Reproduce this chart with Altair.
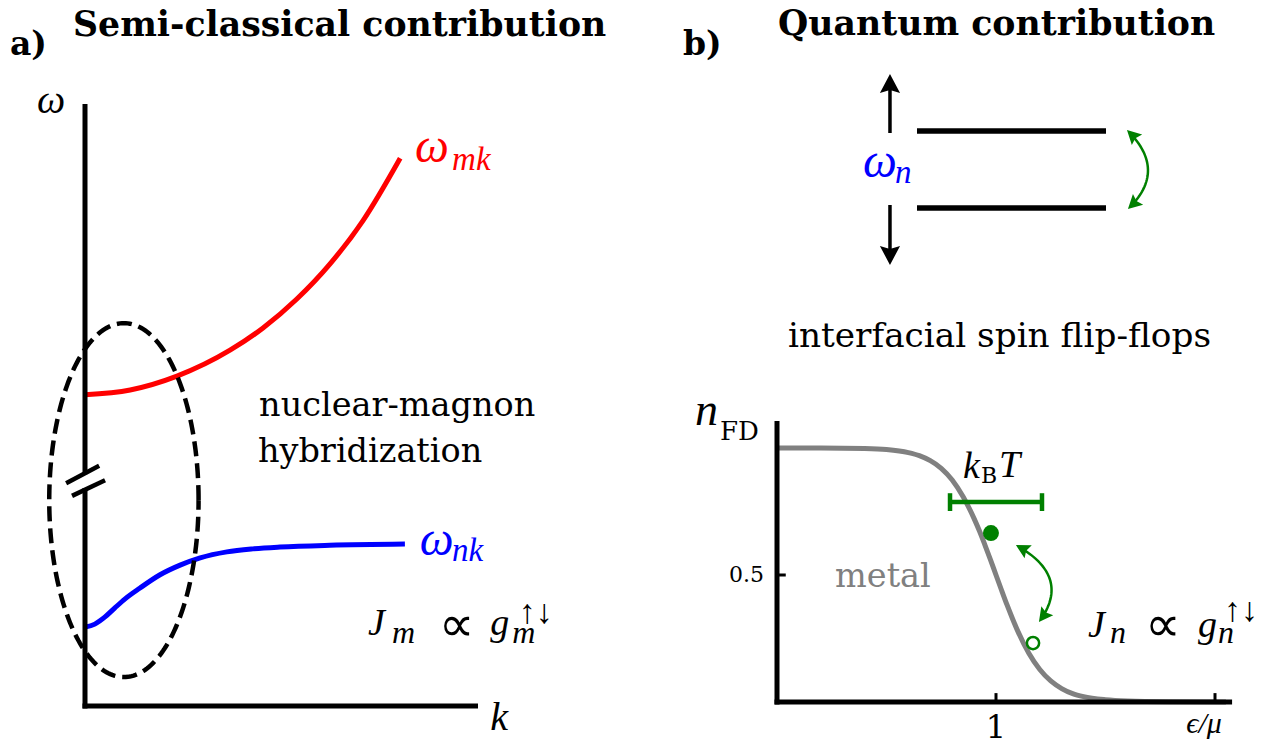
import altair as alt
import numpy as np
import pandas as pd

SERIF = "DejaVu Serif"
MATH = "Liberation Serif"
SYMB = "DejaVu Sans"
BLACK, RED, BLUE, GREEN, GRAY = "#000000", "#ff0000", "#0000ff", "#008000", "#808080"

# ---------------- panel a: dispersion sketch (arbitrary units) ----------------
k_magnon = [0.0, 0.115, 0.234, 0.369, 0.453, 0.539, 0.623, 0.707, 0.802]
w_magnon = [0.517, 0.525, 0.548, 0.591, 0.628, 0.676, 0.734, 0.806, 0.910]
k_nuclear = [0.0, 0.025, 0.051, 0.076, 0.102, 0.140, 0.191, 0.242, 0.293, 0.361, 0.427, 0.496, 0.623, 0.814]
w_nuclear = [0.131, 0.136, 0.148, 0.163, 0.178, 0.196, 0.218, 0.234, 0.246, 0.256, 0.261, 0.264, 0.267, 0.269]
hyb_center = [0.099, 0.342]      # hybridization region (dashed ellipse)
hyb_radii = [0.190, 0.294]
w_break = [0.362, 0.385]         # broken stretch of the omega axis

# ---------------- panel b: two-level system and Fermi-Dirac occupation ----------------
eps = [0.0, 0.2, 0.4, 0.5, 0.6, 0.65, 0.7, 0.75, 0.8, 0.85, 0.9, 0.925, 0.95, 0.975, 1.0,
       1.025, 1.05, 1.075, 1.1, 1.15, 1.2, 1.25, 1.3, 1.35, 1.4, 1.5, 1.6, 1.8, 2.05]
n_fd = [1.0, 1.0, 0.998, 0.994, 0.982, 0.970, 0.950, 0.920, 0.874, 0.808, 0.722, 0.672, 0.617, 0.560, 0.500,
        0.441, 0.383, 0.329, 0.278, 0.192, 0.128, 0.083, 0.053, 0.033, 0.021, 0.009, 0.004, 0.001, 0.0]
kT_span = [0.79, 1.21]
kT_height = 0.787
occupied_state = [0.977, 0.665]
empty_state = [1.169, 0.232]
n_ticks = [0.5]
n_tick_labels = ["0.5"]
eps_ticks = [1.0, 2.0]
eps_tick_labels = ["1", ""]
levels = [0.0, 1.0]

# ---------------- scales (each panel has its own coordinates) ----------------
A_DOM, A_RNG = ([0, 1], [0, 1]), ([85, 478], [706, 104])
F_DOM, F_RNG = ([0, 2], [0, 1]), ([777, 1215], [702, 448])
L_DOM, L_RNG = ([0, 1], [0, 1]), ([917, 1106], [208, 131])


def scales(dom, rng):
    return tuple(alt.Scale(domain=d, range=r, nice=False, zero=False) for d, r in zip(dom, rng))


def px_per_unit(dom, rng):
    return tuple((r[1] - r[0]) / (d[1] - d[0]) for d, r in zip(dom, rng))


A_X, A_Y = scales(A_DOM, A_RNG)
F_X, F_Y = scales(F_DOM, F_RNG)
L_X, L_Y = scales(L_DOM, L_RNG)


def xy(sx, sy, x2=False):
    e = dict(x=alt.X("x:Q", scale=sx, axis=None), y=alt.Y("y:Q", scale=sy, axis=None))
    if x2:
        e["x2"] = alt.X2("x2:Q")
        e["y2"] = alt.Y2("y2:Q")
    return e


def segments(rows, sx, sy, **mark):
    df = pd.DataFrame(rows, columns=["x", "y", "x2", "y2"])
    return alt.Chart(df).mark_rule(**mark).encode(**xy(sx, sy, x2=True))


def path(xs, ys, sx, sy, **mark):
    df = pd.DataFrame({"x": list(xs), "y": list(ys), "i": range(len(xs))})
    return alt.Chart(df).mark_line(**mark).encode(**xy(sx, sy), order="i:Q")


HEAD = "M0,0L0.53,1L0,0.84L-0.53,1Z"


def heads(rows, sx, sy, length, color):
    df = pd.DataFrame(rows, columns=["x", "y", "angle"])
    return alt.Chart(df).mark_point(
        shape=HEAD, filled=True, size=(2 * length) ** 2, color=color, opacity=1, strokeWidth=0
    ).encode(**xy(sx, sy), angle=alt.Angle("angle:Q", scale=None))


def screen_angle(d, fx, fy):
    dx, dy = d[0] * fx, d[1] * fy
    return float((np.degrees(np.arctan2(dx, -dy)) + 360.0) % 360.0)


def double_arrow(p0, p2, bulge, dom, rng, sx, sy, head_len, color, width):
    # quadratic Bezier through the bulge point, with a head on each end
    p0, p2, bulge = np.array(p0), np.array(p2), np.array(bulge)
    p1 = 2 * bulge - 0.5 * (p0 + p2)
    t = np.linspace(0.07, 0.93, 40)[:, None]
    pts = (1 - t) ** 2 * p0 + 2 * (1 - t) * t * p1 + t ** 2 * p2
    fx, fy = px_per_unit(dom, rng)
    line = path(pts[:, 0], pts[:, 1], sx, sy, color=color, strokeWidth=width, strokeCap="butt")
    tips = heads([(p0[0], p0[1], screen_angle(p0 - p1, fx, fy)),
                  (p2[0], p2[1], screen_angle(p2 - p1, fx, fy))], sx, sy, head_len, color)
    return [line, tips]


def texts(rows, sx, sy, **mark):
    df = pd.DataFrame(rows, columns=["text", "x", "y", "size", "color"])
    props = dict(font=SERIF, align="left", baseline="alphabetic")
    props.update(mark)
    return alt.Chart(df).mark_text(**props).encode(
        **xy(sx, sy), text="text:N",
        size=alt.Size("size:Q", scale=None), color=alt.Color("color:N", scale=None))


def math(rows, sx, sy, **mark):
    return texts(rows, sx, sy, font=MATH, fontStyle="italic", **mark)


layers = []

# ---- panel a ----
layers.append(path(k_magnon, w_magnon, A_X, A_Y, color=RED, strokeWidth=5, interpolate="monotone"))
layers.append(path(k_nuclear, w_nuclear, A_X, A_Y, color=BLUE, strokeWidth=5, interpolate="monotone"))
layers.append(segments([(0, -0.004, 0, w_break[0]), (0, w_break[1], 0, 1.0),
                        (-0.0064, 0, 1.0, 0)], A_X, A_Y, color=BLACK, strokeWidth=5))
layers.append(segments([(-0.048, 0.370, 0.036, 0.399), (-0.033, 0.349, 0.051, 0.375)],
                       A_X, A_Y, color=BLACK, strokeWidth=4.5))
theta = np.linspace(0, 2 * np.pi, 241)
layers.append(path(hyb_center[0] + hyb_radii[0] * np.cos(theta),
                   hyb_center[1] + hyb_radii[1] * np.sin(theta),
                   A_X, A_Y, color=BLACK, strokeWidth=4.5, strokeDash=[15, 7]))
layers.append(texts([("a)", -0.191, 1.081, 33, BLACK),
                     ("Semi-classical contribution", -0.0305, 1.113, 34.7, BLACK)],
                    A_X, A_Y, fontWeight="bold"))
layers.append(texts([("nuclear-magnon", 0.443, 0.482, 33.5, BLACK),
                     ("hybridization", 0.440, 0.405, 33.5, BLACK)], A_X, A_Y))
layers.append(texts([("∝", 0.900, 0.108, 50, BLACK)], A_X, A_Y, font=SYMB))
layers.append(texts([("↑↓", 1.104, 0.138, 34, BLACK)], A_X, A_Y, font=MATH))
layers.append(math([("ω", 0.840, 0.904, 48, RED), ("mk", 0.934, 0.890, 33, RED),
                    ("ω", 0.852, 0.251, 48, BLUE), ("nk", 0.934, 0.241, 33, BLUE),
                    ("J", 0.720, 0.118, 38, BLACK), ("m", 0.781, 0.105, 32, BLACK),
                    ("g", 1.031, 0.118, 38, BLACK), ("m", 1.087, 0.105, 32, BLACK),
                    ("k", 1.031, -0.040, 40, BLACK)], A_X, A_Y))
layers.append(math([("ω", -0.0865, 0.985, 40, BLACK)], A_X, A_Y, align="center"))

# ---- panel b, two-level system ----
layers.append(segments([(0, lv, 1, lv) for lv in levels], L_X, L_Y, color=BLACK, strokeWidth=5.5))
layers.append(segments([(-0.143, 0.974, -0.143, 1.56), (-0.143, 0.039, -0.143, -0.56)],
                       L_X, L_Y, color=BLACK, strokeWidth=3.5))
layers.append(heads([(-0.143, 1.740, 0.0), (-0.143, -0.740, 180.0)], L_X, L_Y, 19, BLACK))
layers += double_arrow((1.111, 1.013), (1.116, -0.013), (1.222, 0.494),
                       L_DOM, L_RNG, L_X, L_Y, 14, GREEN, 2.5)
layers.append(texts([("b)", -1.238, 1.987, 33, BLACK),
                     ("Quantum contribution", -0.735, 2.247, 34.7, BLACK)],
                    L_X, L_Y, fontWeight="bold"))
layers.append(texts([("interfacial spin flip-flops", -0.683, -1.805, 34.3, BLACK)], L_X, L_Y))
layers.append(math([("ω", -0.286, 0.403, 48, BLUE), ("n", -0.116, 0.325, 33, BLUE)], L_X, L_Y))

# ---- panel b, Fermi-Dirac occupation ----
layers.append(path(eps, n_fd, F_X, F_Y, color=GRAY, strokeWidth=5, interpolate="monotone"))
layers.append(segments([(0, -0.0098, 0, 1.106), (-0.0114, 0, 2.078, 0)],
                       F_X, F_Y, color=BLACK, strokeWidth=5))
layers.append(segments([(t, 0, t, 0.035) for t in eps_ticks] + [(0, t, 0.04, t) for t in n_ticks],
                       F_X, F_Y, color=BLACK, strokeWidth=3))
layers.append(texts([(lab, t, -0.142, 32, BLACK) for t, lab in zip(eps_ticks, eps_tick_labels) if lab],
                    F_X, F_Y, align="center"))
layers.append(texts([(lab, -0.059, t, 22, BLACK) for t, lab in zip(n_ticks, n_tick_labels)],
                    F_X, F_Y, align="right", baseline="middle"))
layers.append(segments([(kT_span[0], kT_height, kT_span[1], kT_height),
                        (kT_span[0], kT_height - 0.035, kT_span[0], kT_height + 0.035),
                        (kT_span[1], kT_height - 0.035, kT_span[1], kT_height + 0.035)],
                       F_X, F_Y, color=GREEN, strokeWidth=4.5))
layers.append(alt.Chart(pd.DataFrame({"x": [occupied_state[0]], "y": [occupied_state[1]]}))
              .mark_point(shape="circle", filled=True, size=256, color=GREEN, opacity=1)
              .encode(**xy(F_X, F_Y)))
layers.append(alt.Chart(pd.DataFrame({"x": [empty_state[0]], "y": [empty_state[1]]}))
              .mark_point(shape="circle", filled=True, size=150, fill="white", stroke=GREEN,
                          strokeWidth=2.5, opacity=1)
              .encode(**xy(F_X, F_Y)))
layers += double_arrow((1.091, 0.618), (1.196, 0.315), (1.247, 0.480),
                       F_DOM, F_RNG, F_X, F_Y, 14, GREEN, 2.5)
layers.append(texts([("metal", 0.265, 0.453, 33.5, GRAY), ("FD", -0.260, 1.031, 26, BLACK),
                     ("B", 0.932, 0.862, 22, BLACK)], F_X, F_Y))
layers.append(texts([("∝", 1.680, 0.240, 50, BLACK)], F_X, F_Y, font=SYMB))
layers.append(texts([("↑↓", 2.041, 0.319, 34, BLACK)], F_X, F_Y, font=MATH))
layers.append(math([("n", -0.374, 1.091, 46, BLACK),
                    ("k", 0.849, 0.882, 38, BLACK), ("T", 1.014, 0.886, 38, BLACK),
                    ("J", 1.420, 0.256, 38, BLACK), ("n", 1.521, 0.232, 32, BLACK),
                    ("g", 1.922, 0.256, 38, BLACK), ("n", 2.014, 0.232, 32, BLACK)], F_X, F_Y))
layers.append(math([("ϵ/μ", 1.95, -0.122, 30, BLACK)], F_X, F_Y, align="center"))

chart = (
    alt.layer(*layers)
    .resolve_scale(x="independent", y="independent")
    .properties(width=1276, height=746, padding=0, background="white",
                autosize=alt.AutoSizeParams(type="none"))
    .configure_view(stroke=None)
)

chart.save("out.html", embed_options={"renderer": "svg", "actions": False})
